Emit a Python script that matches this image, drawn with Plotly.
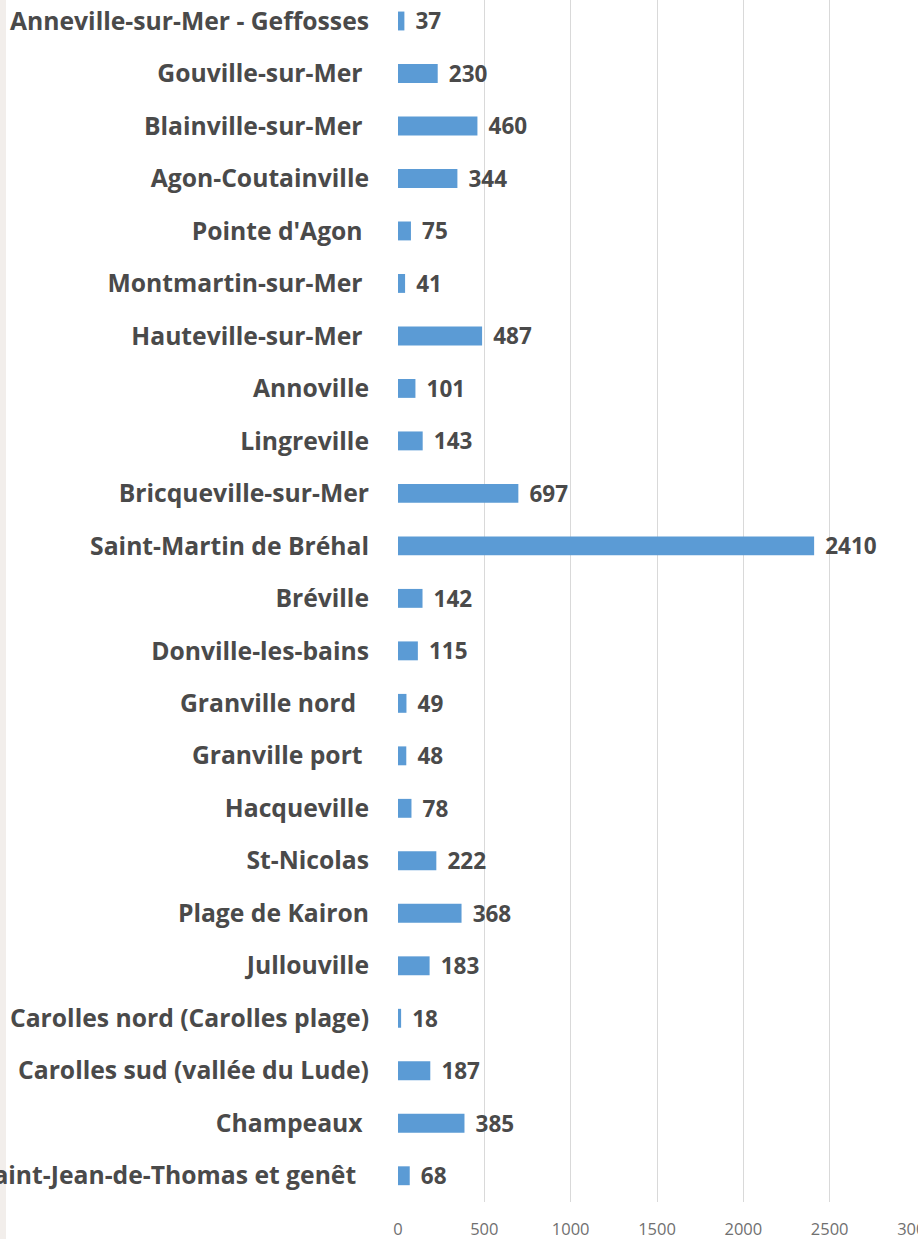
import plotly.graph_objects as go

categories = [
    "Anneville-sur-Mer - Geffosses",
    "Gouville-sur-Mer\u00a0",
    "Blainville-sur-Mer\u00a0",
    "Agon-Coutainville",
    "Pointe d'Agon\u00a0",
    "Montmartin-sur-Mer\u00a0",
    "Hauteville-sur-Mer\u00a0",
    "Annoville",
    "Lingreville",
    "Bricqueville-sur-Mer",
    "Saint-Martin de Bréhal",
    "Bréville",
    "Donville-les-bains",
    "Granville nord\u00a0\u00a0",
    "Granville port\u00a0",
    "Hacqueville",
    "St-Nicolas",
    "Plage de Kairon",
    "Jullouville",
    "Carolles nord (Carolles plage)",
    "Carolles sud (vallée du Lude)",
    "Champeaux\u00a0",
    "Saint-Jean-de-Thomas et genêt\u00a0\u00a0",
]
values = [37, 230, 460, 344, 75, 41, 487, 101, 143, 697, 2410, 142, 115,
          49, 48, 78, 222, 368, 183, 18, 187, 385, 68]
tick_vals = [0, 500, 1000, 1500, 2000, 2500, 3000]

W, H = 918, 1239
ML, MR, MT, MB = 398, 2, 0, 37
plot_w = W - ML - MR

fig = go.Figure(go.Bar(
    x=values,
    y=list(range(len(categories))),
    orientation="h",
    marker=dict(color="#5B9BD5", line=dict(width=0)),
    width=0.36,
    text=values,
    texttemplate="\u00a0\u200a%{x}",
    textposition="outside",
    constraintext="none",
    cliponaxis=False,
    textfont=dict(family="Open Sans", size=22.5, color="#4a4a4a", weight="bold"),
    hoverinfo="skip",
))

fig.update_layout(
    width=W, height=H,
    margin=dict(l=ML, r=MR, t=MT, b=MB, pad=0, autoexpand=False),
    paper_bgcolor="white",
    plot_bgcolor="white",
    showlegend=False,
    font=dict(family="Open Sans"),
    shapes=[dict(type="rect", xref="paper", yref="paper",
                 x0=-ML / plot_w, x1=-(ML - 6) / plot_w, y0=-MB / (H - MT - MB), y1=1.0,
                 fillcolor="#F2EEEB", line=dict(width=0), layer="below")],
)

fig.update_xaxes(
    range=[0, 3000],
    automargin=False,
    tickvals=tick_vals,
    ticktext=[str(v) for v in tick_vals],
    showgrid=True, gridcolor="#D9D9D9", gridwidth=1,
    zeroline=False, showline=False,
    ticks="outside", ticklen=0,
    ticklabelstandoff=12,
    ticklabeloverflow="allow",
    tickfont=dict(family="Open Sans", size=16.5, color="#707070"),
)

fig.update_yaxes(
    tickvals=list(range(len(categories))),
    ticktext=categories,
    range=[22.5, -0.4],
    automargin=False,
    showgrid=False, zeroline=False, showline=False,
    ticks="", ticklabelstandoff=28,
    ticklabeloverflow="allow",
    tickfont=dict(family="Open Sans", size=24.7, color="#4a4a4a", weight="bold"),
)

fig.write_html(
    "out.html",
    config={"displayModeBar": False, "staticPlot": True},
    post_script="document.body.style.margin='0';document.body.style.padding='0';"
                "document.body.style.overflow='hidden';",
)
